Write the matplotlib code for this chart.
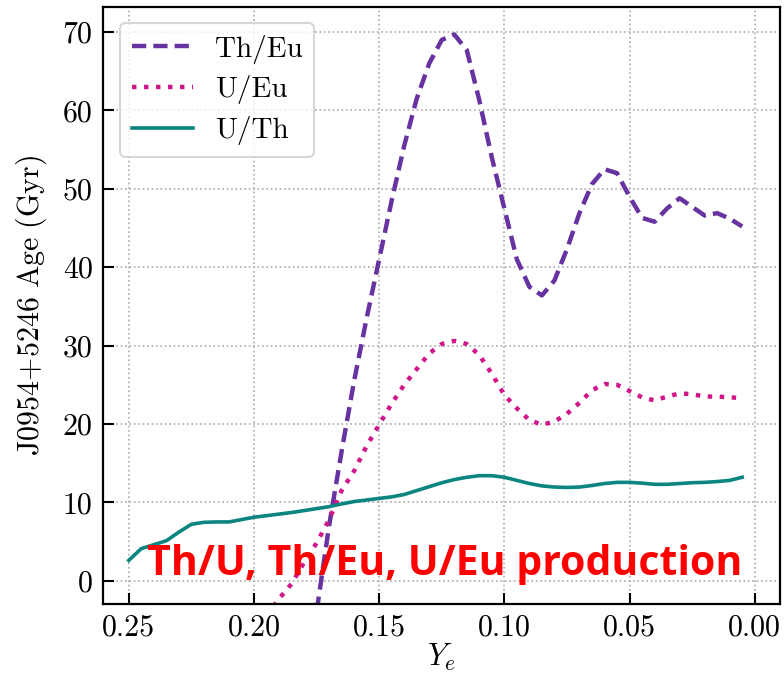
import matplotlib
matplotlib.use("Agg")
import matplotlib.pyplot as plt
import numpy as np

plt.rcParams['font.family'] = 'serif'
plt.rcParams['font.serif'] = ['cmr10', 'DejaVu Serif']
plt.rcParams['mathtext.fontset'] = 'cm'
plt.rcParams['axes.unicode_minus'] = False
plt.rcParams['axes.formatter.use_mathtext'] = True

# ---- data ----
ye_th_eu = [0.180, 0.175, 0.170, 0.165, 0.160, 0.155, 0.150, 0.145, 0.140, 0.135,
            0.130, 0.125, 0.120, 0.115, 0.110, 0.105, 0.100, 0.095, 0.090, 0.085,
            0.080, 0.075, 0.070, 0.065, 0.060, 0.055, 0.050, 0.045, 0.040, 0.035,
            0.030, 0.025, 0.020, 0.015, 0.010, 0.005]
th_eu = [-15, -4, 7, 16.5, 25.5, 33.5, 41, 48.5, 55.5, 61.5,
         66, 69, 69.7, 67.7, 61.3, 54, 47.5, 41, 37.5, 36.4,
         38.3, 42.3, 46.9, 50.6, 52.5, 52.0, 49.0, 46.3, 45.8, 47.5,
         48.8, 47.7, 46.6, 46.9, 46.2, 45.2]

ye_u_eu = [0.195, 0.190, 0.185, 0.180, 0.175, 0.170, 0.165, 0.160, 0.155, 0.150,
           0.145, 0.140, 0.135, 0.130, 0.125, 0.120, 0.115, 0.110, 0.105, 0.100,
           0.095, 0.090, 0.085, 0.080, 0.075, 0.070, 0.065, 0.060, 0.055, 0.050,
           0.045, 0.040, 0.035, 0.030, 0.025, 0.020, 0.015, 0.010, 0.005]
u_eu = [-4.5, -2.3, -0.4, 2.3, 4.8, 7.8, 11.5, 14.0, 17.2, 19.9,
        22.6, 25.0, 27.0, 29.0, 30.2, 30.6, 30.2, 28.8, 26.4, 23.7,
        22.0, 20.5, 19.9, 20.3, 21.3, 22.7, 24.3, 25.1, 25.0, 24.2,
        23.4, 23.0, 23.5, 23.9, 23.8, 23.5, 23.5, 23.4, 23.3]

ye_u_th = [0.250, 0.245, 0.240, 0.235, 0.230, 0.225, 0.220, 0.215, 0.210, 0.205,
           0.200, 0.195, 0.190, 0.185, 0.180, 0.175, 0.170, 0.165, 0.160, 0.155,
           0.150, 0.145, 0.140, 0.135, 0.130, 0.125, 0.120, 0.115, 0.110, 0.105,
           0.100, 0.095, 0.090, 0.085, 0.080, 0.075, 0.070, 0.065, 0.060, 0.055,
           0.050, 0.045, 0.040, 0.035, 0.030, 0.025, 0.020, 0.015, 0.010, 0.005]
u_th = [2.6, 4.1, 4.6, 5.1, 6.2, 7.2, 7.45, 7.5, 7.5, 7.8,
        8.1, 8.3, 8.5, 8.7, 8.95, 9.2, 9.45, 9.8, 10.1, 10.3,
        10.5, 10.7, 11.0, 11.5, 12.0, 12.5, 12.9, 13.2, 13.4, 13.4,
        13.2, 12.8, 12.4, 12.1, 11.95, 11.9, 11.95, 12.15, 12.4, 12.55,
        12.55, 12.45, 12.3, 12.3, 12.4, 12.5, 12.55, 12.65, 12.8, 13.2]

xticks = [0.25, 0.20, 0.15, 0.10, 0.05, 0.00]
yticks = [0, 10, 20, 30, 40, 50, 60, 70]

# ---- plot ----
fig = plt.figure(figsize=(7.84, 6.73), dpi=100)
ax = fig.add_axes([103/784, 1-604/673, (780-103)/784, (604-7)/673])

ax.plot(ye_th_eu, th_eu, color='#6633a0', lw=3.2, ls=(0, (3.2, 1.6)), label='Th/Eu')
ax.plot(ye_u_eu, u_eu, color='#d0178a', lw=3.2, ls=(0, (1, 1.7)), label='U/Eu')
ax.plot(ye_u_th, u_th, color='#0a8580', lw=2.6, ls='-', label='U/Th')

ax.set_xlim(0.2603, -0.0101)
ax.set_ylim(-2.97, 73.2)
ax.set_xticks(xticks)
ax.set_yticks(yticks)
ax.set_xticklabels(['%.2f' % v for v in xticks])
ax.set_yticklabels(['%d' % v for v in yticks])
ax.tick_params(direction='in', length=8, width=1.5, labelsize=21.5, pad=7.5)
for s in ax.spines.values():
    s.set_linewidth(1.6)
ax.grid(True, ls=':', color='#aaaaaa', lw=1.2)

ax.set_xlabel(r'$Y_e$', fontsize=22, labelpad=0)
ax.set_ylabel(r'$\mathrm{J0954\!+\!5246\ Age\ (Gyr)}$', fontsize=21.5, labelpad=10)

leg = ax.legend(loc='upper left', fontsize=21, handlelength=2.1, frameon=True,
                borderpad=0.4, labelspacing=0.4, handletextpad=0.75,
                borderaxespad=0, bbox_to_anchor=(17/677, 1-16/597))
leg.get_frame().set_edgecolor('#cccccc')
leg.get_frame().set_linewidth(1.5)

fig.text(147/784, 1-575/673, 'Th/U, Th/Eu, U/Eu production', color='#ff0000',
         fontsize=29.5, fontweight='bold', family='Open Sans', ha='left', va='baseline')

fig.savefig('out.png', dpi=100)
